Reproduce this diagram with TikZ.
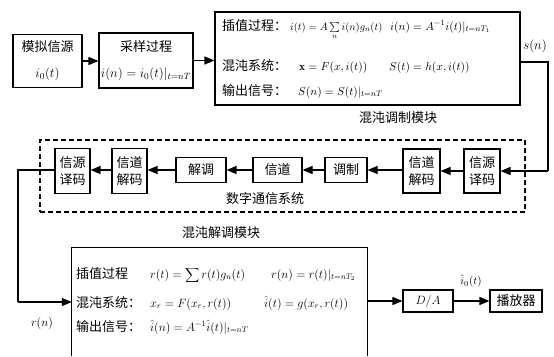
\RequirePackage{fix-cm}
\documentclass[tikz,border=0pt]{standalone}
\usepackage{fontspec}
\newfontfamily\cjk{Noto Sans CJK SC}
\usetikzlibrary{arrows.meta}
\begin{document}
\begin{tikzpicture}[x=1pt,y=-1pt,
  blk/.style={draw,line width=1.1pt,inner sep=0pt,align=center,font=\cjk\fontsize{13}{17}\selectfont},
  txt/.style={inner sep=0pt,anchor=base west,font=\fontsize{13}{15}\selectfont},
  mtxt/.style={inner sep=0pt,anchor=base west,font=\fontsize{11.5}{13}\selectfont},
  bmtxt/.style={inner sep=0pt,anchor=base west,font=\fontsize{12}{14}\selectfont},
  lbl/.style={inner sep=0pt,font=\cjk\fontsize{13}{15}\selectfont},
  arr/.style={line width=1.1pt,-{Triangle[length=10pt,width=8pt]}},
  ln/.style={line width=1.1pt}]
\useasboundingbox (0,0) rectangle (554,356);
% top row
\node[blk,minimum width=69pt,minimum height=53pt] (src) at (47.5,61) {模拟信源\\[9pt]$i_0(t)$};
\node[blk,minimum width=94pt,minimum height=55pt] (samp) at (146,60.5) {采样过程\\[9pt]$i(n)=i_0(t)|_{t=nT}$};
\node[draw,line width=1.1pt,minimum width=305pt,minimum height=93pt,inner sep=0pt] (mod3) at (367.5,58.5) {};
\node[txt] (m1a) at (222,30) {{\cjk 插值过程：}};
\node[mtxt,font=\fontsize{10.5}{12}\selectfont] (m1b) at (290,30) {$i(t)=A\sum\limits_n i(n)g_n(t)$};
\node[mtxt] (m1c) at (390,30) {$i(n)=A^{-1}i(t)|_{t=nT_1}$};
\node[txt] (m2a) at (222,70) {{\cjk 混沌系统：}};
\node[mtxt] (m2b) at (299,70) {$\mathbf{x}=F(x,i(t))$};
\node[mtxt] (m2c) at (389,70) {$S(t)=h(x,i(t))$};
\node[txt] (m3a) at (222,95) {{\cjk 输出信号：}};
\node[mtxt] (m3b) at (298,95) {$S(n)=S(t)|_{t=nT}$};
\node[lbl] (m3lbl) at (398,118) {混沌调制模块};
\draw[arr] (src.east) -- (samp.west |- src.east);
\draw[arr] (samp.east) -- (samp.east -| mod3.west);
% s(n)
\coordinate (c1) at (548,62);
\coordinate (c2) at (548,171);
\node[inner sep=0pt,font=\fontsize{13}{15}\selectfont] (sn) at (535,46) {$s(n)$};
% digital communication system
\node[draw,line width=1.1pt,dash pattern=on 5pt off 3pt,minimum width=485pt,minimum height=72pt,inner sep=0pt] (dsys) at (282.5,176) {};
\node[blk,minimum width=36pt,minimum height=44pt] (srcR) at (482,171) {信源\\译码};
\node[blk,minimum width=37pt,minimum height=44pt] (chR) at (421.5,171) {信道\\解码};
\node[blk,minimum width=42pt,minimum height=25pt] (modu) at (346,170) {调制};
\node[blk,minimum width=49pt,minimum height=25pt] (chan) at (277.5,170) {信道};
\node[blk,minimum width=50pt,minimum height=25pt] (demod) at (201,170) {解调};
\node[blk,minimum width=35pt,minimum height=45pt] (chL) at (129.5,171) {信道\\解码};
\node[blk,minimum width=35pt,minimum height=45pt] (srcL) at (72.5,171) {信源\\译码};
\node[lbl] (dlbl) at (265,199) {数字通信系统};
\draw[ln] (mod3.east |- c1) -- (c1) -- (c2);
\draw[arr] (c2) -- (srcR.east |- c2);
\draw[arr] (srcR.west |- c2) -- (chR.east |- c2);
\draw[arr] (chR.west |- modu) -- (modu.east);
\draw[arr] (modu.west) -- (chan.east);
\draw[arr] (chan.west) -- (demod.east);
\draw[arr] (demod.west) -- (chL.east |- demod);
\draw[arr] (chL.west |- demod) -- (srcL.east |- demod);
% demodulation module
\node[lbl] (d4lbl) at (221,233) {混沌解调模块};
\node[minimum width=295pt,minimum height=108pt,inner sep=0pt] (b4) at (219.5,302) {};
\draw[ln] (b4.south west) |- (b4.north east) -- (b4.south east);
\coordinate (c3) at (18,170);
\coordinate (c4) at (18,302);
\draw[ln] (srcL.west |- demod) -- (c3) -- (c4);
\draw[arr] (c4) -- (b4.west);
\node[inner sep=0pt,font=\fontsize{12}{14}\selectfont] (rn) at (42,323) {$r(n)$};
\node[txt] (r1a) at (76,278) {{\cjk 插值过程}};
\node[bmtxt] (r1b) at (150,278) {$r(t)=\displaystyle\sum r(t)g_n(t)$};
\node[bmtxt] (r1c) at (271,278) {$r(n)=r(t)|_{t=nT_2}$};
\node[txt] (r2a) at (76,307) {{\cjk 混沌系统：}};
\node[bmtxt] (r2b) at (150,307) {$x_r=F(x_r,r(t))$};
\node[bmtxt] (r2c) at (264,307) {$\hat{i}(t)=g(x_r,r(t))$};
\node[txt] (r3a) at (76,331) {{\cjk 输出信号：}};
\node[bmtxt] (r3b) at (150,331) {$\hat{i}(n)=A^{-1}\hat{i}(t)|_{t=nT}$};
% output
\node[draw,line width=1.1pt,minimum width=50pt,minimum height=22pt,inner sep=0pt,font=\fontsize{12}{14}\selectfont] (da) at (428,301) {$D/A$};
\node[blk,minimum width=52pt,minimum height=22pt] (play) at (516,301) {播放器};
\node[inner sep=0pt,font=\fontsize{11}{13}\selectfont] (i0) at (471,281) {$\hat{i}_0(t)$};
\draw[arr] (b4.east |- da) -- (da.west);
\draw[arr] (da.east) -- (play.west);
\end{tikzpicture}
\end{document}
